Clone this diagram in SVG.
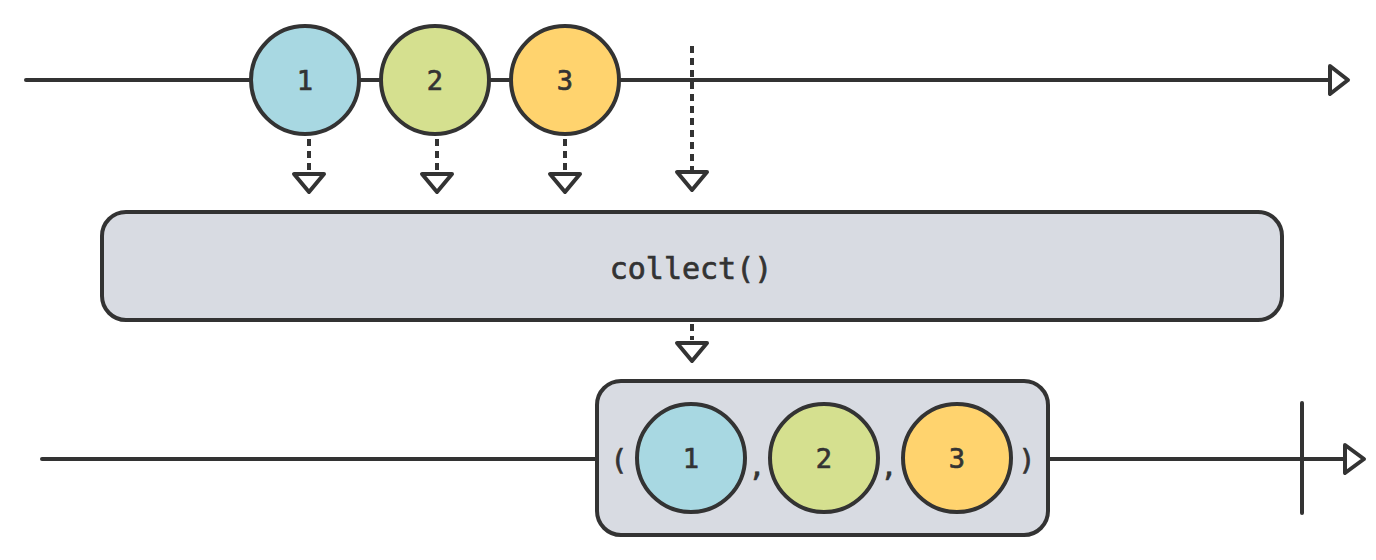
<svg xmlns="http://www.w3.org/2000/svg" width="1376" height="560" viewBox="0 0 1376 560">
<style>
.ln{stroke:#333;stroke-width:4;fill:none;stroke-linecap:round}
.dash{stroke:#333;stroke-width:4;fill:none;stroke-dasharray:7 5}
.tri{stroke:#333;stroke-width:4;fill:#fff;stroke-linejoin:round}
.circ{stroke:#333;stroke-width:4}
.box{fill:#d8dbe2;stroke:#333;stroke-width:4}
.t{font-family:"DejaVu Sans Mono","Liberation Mono",monospace;fill:#333;stroke:#333;stroke-width:0.7;text-anchor:middle}
.num{font-size:27px}
.b{fill:#a8d8e2}.g{fill:#d5e08f}.o{fill:#ffd36e}
</style>
<rect width="1376" height="560" fill="#fff"/>
<g id="connectors">
<line class="ln" x1="26" y1="80" x2="1332" y2="80"/>
<polygon class="tri" points="1330,66 1348,80 1330,94"/>
<line class="ln" x1="42" y1="459" x2="1345" y2="459"/>
<polygon class="tri" points="1345,445 1364,459 1345,473"/>
<line class="ln" x1="1302" y1="403" x2="1302" y2="513"/>
<line class="dash" x1="309" y1="139" x2="309" y2="172"/>
<polygon class="tri" points="294,174 324,174 309,192"/>
<line class="dash" x1="437" y1="139" x2="437" y2="172"/>
<polygon class="tri" points="422,174 452,174 437,192"/>
<line class="dash" x1="565" y1="139" x2="565" y2="172"/>
<polygon class="tri" points="550,174 580,174 565,192"/>
<line class="dash" x1="692" y1="46" x2="692" y2="170"/>
<polygon class="tri" points="677,172 707,172 692,190"/>
<line class="dash" x1="692" y1="324" x2="692" y2="340"/>
<polygon class="tri" points="677,343 707,343 692,361"/>
</g>
<g id="n1"><circle class="circ b" cx="305" cy="80" r="54"/><text class="t num" x="305" y="90">1</text></g>
<g id="n2"><circle class="circ g" cx="435" cy="80" r="54"/><text class="t num" x="435" y="90">2</text></g>
<g id="n3"><circle class="circ o" cx="565" cy="80" r="54"/><text class="t num" x="565" y="90">3</text></g>
<g id="op"><rect class="box" x="102" y="212" width="1180" height="108" rx="24"/><text class="t" x="691" y="279" font-size="30">collect()</text></g>
<g id="result">
<rect class="box" x="597" y="381" width="451" height="154" rx="24"/>
<text class="t" x="619" y="470" font-size="28">(</text>
<text class="t" x="1027" y="470" font-size="28">)</text>
<text class="t" x="757" y="476" font-size="28">,</text>
<text class="t" x="889" y="476" font-size="28">,</text>
<circle class="circ b" cx="691" cy="458" r="54"/><text class="t num" x="691" y="468">1</text>
<circle class="circ g" cx="824" cy="458" r="54"/><text class="t num" x="824" y="468">2</text>
<circle class="circ o" cx="957" cy="458" r="54"/><text class="t num" x="957" y="468">3</text>
</g>
</svg>
